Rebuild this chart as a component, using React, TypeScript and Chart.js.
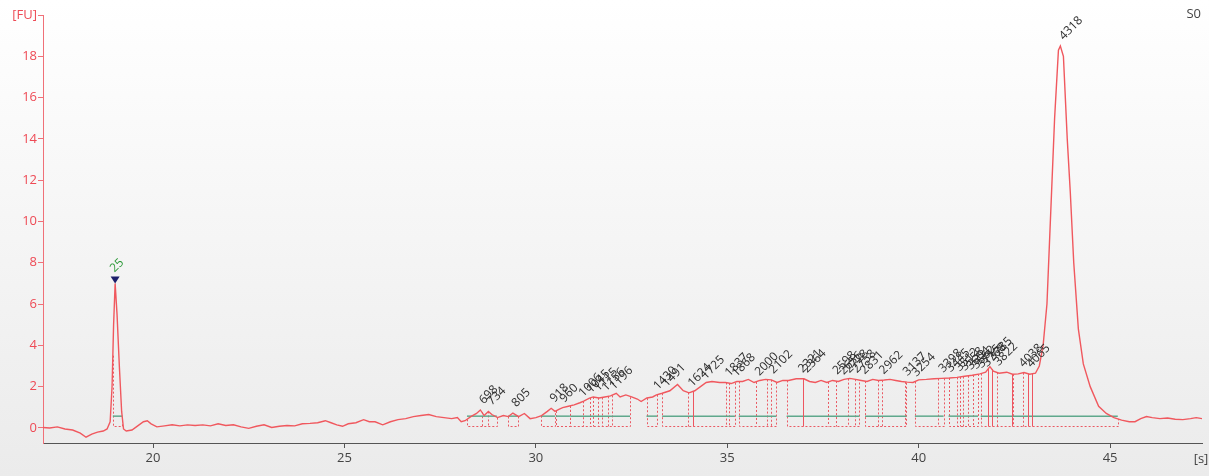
import { useEffect, useRef } from "react";
import { Chart, registerables } from "chart.js";

Chart.register(...registerables);

// Electropherogram trace: migration time [s] and fluorescence [FU]
const traceTime = [
  17.12, 17.3, 17.5, 17.7, 17.9, 18.1, 18.25, 18.4, 18.55, 18.7, 18.8, 18.88, 18.93, 18.97, 19.01,
  19.06, 19.12, 19.18, 19.23, 19.3, 19.45, 19.6, 19.75, 19.85, 19.95, 20.1, 20.3, 20.5, 20.7, 20.9,
  21.1, 21.3, 21.5, 21.7, 21.9, 22.1, 22.3, 22.5, 22.7, 22.9, 23.1, 23.3, 23.5, 23.7, 23.9,
  24.1, 24.3, 24.5, 24.65, 24.8, 24.95, 25.1, 25.3, 25.5, 25.65, 25.8, 26.0, 26.2, 26.4, 26.6,
  26.8, 27.0, 27.2, 27.4, 27.6, 27.8, 27.95, 28.05, 28.15, 28.3, 28.45, 28.55, 28.65, 28.76, 28.85,
  29.0, 29.15, 29.28, 29.4, 29.55, 29.7, 29.85, 30.0, 30.15, 30.3, 30.4, 30.5, 30.6, 30.7, 30.85,
  31.0, 31.15, 31.25, 31.4, 31.5, 31.65, 31.8, 31.95, 32.1, 32.2, 32.35, 32.5, 32.65, 32.75, 32.9,
  33.05, 33.15, 33.3, 33.5, 33.7, 33.85, 34.0, 34.15, 34.3, 34.45, 34.6, 34.8, 34.95, 35.1, 35.25,
  35.4, 35.55, 35.7, 35.85, 36.0, 36.15, 36.3, 36.45, 36.6, 36.8, 37.0, 37.15, 37.3, 37.45, 37.6,
  37.75, 37.9, 38.05, 38.2, 38.35, 38.5, 38.65, 38.8, 38.95, 39.1, 39.25, 39.4, 39.55, 39.7, 39.85,
  40.0, 40.2, 40.4, 40.6, 40.8, 41.0, 41.2, 41.4, 41.6, 41.75, 41.86, 41.95, 42.1, 42.3, 42.45,
  42.6, 42.75, 42.9, 43.05, 43.15, 43.25, 43.35, 43.45, 43.55, 43.65, 43.7, 43.78, 43.88, 43.96, 44.05,
  44.17, 44.3, 44.48, 44.7, 44.9, 45.1, 45.3, 45.5, 45.65, 45.8, 45.95, 46.1, 46.3, 46.5, 46.7,
  46.9, 47.1, 47.25, 47.4,
];
const traceFU = [
  0.02, 0.0, 0.05, -0.05, -0.1, -0.25, -0.45, -0.3, -0.2, -0.15, -0.05, 0.3, 2.0, 5.0, 7.0,
  5.5, 3.0, 0.8, -0.05, -0.15, -0.1, 0.1, 0.3, 0.35, 0.2, 0.05, 0.1, 0.15, 0.1, 0.15,
  0.12, 0.15, 0.1, 0.2, 0.12, 0.15, 0.05, -0.02, 0.08, 0.15, 0.02, 0.08, 0.12, 0.1, 0.2,
  0.22, 0.25, 0.35, 0.25, 0.15, 0.08, 0.2, 0.25, 0.4, 0.3, 0.3, 0.15, 0.3, 0.4, 0.45,
  0.55, 0.6, 0.65, 0.55, 0.5, 0.45, 0.5, 0.3, 0.35, 0.55, 0.7, 0.87, 0.6, 0.8, 0.65,
  0.5, 0.6, 0.55, 0.72, 0.55, 0.7, 0.45, 0.5, 0.6, 0.8, 0.95, 0.8, 0.9, 0.98, 1.05,
  1.12, 1.22, 1.3, 1.44, 1.5, 1.45, 1.5, 1.55, 1.68, 1.5, 1.6, 1.5, 1.4, 1.28, 1.45,
  1.5, 1.6, 1.68, 1.8, 2.1, 1.8, 1.7, 1.8, 2.0, 2.2, 2.25, 2.2, 2.2, 2.15, 2.25,
  2.25, 2.35, 2.2, 2.3, 2.35, 2.33, 2.2, 2.3, 2.3, 2.38, 2.38, 2.25, 2.2, 2.3, 2.2,
  2.3, 2.25, 2.35, 2.4, 2.35, 2.3, 2.25, 2.35, 2.3, 2.32, 2.35, 2.3, 2.25, 2.22, 2.2,
  2.33, 2.35, 2.38, 2.4, 2.42, 2.45, 2.5, 2.55, 2.62, 2.7, 2.97, 2.75, 2.65, 2.7, 2.6,
  2.62, 2.68, 2.6, 2.65, 3.0, 4.0, 6.0, 10.5, 15.0, 18.3, 18.5, 18.0, 14.0, 11.4, 8.0,
  4.8, 3.1, 2.0, 1.05, 0.7, 0.5, 0.38, 0.3, 0.3, 0.45, 0.55, 0.5, 0.45, 0.48, 0.42,
  0.4, 0.45, 0.5, 0.45,
];

// Called peaks: size [bp] and apex time [s]
const peakSizes = [
  "698", "734", "805", "918", "960", "1006", "1045", "1115", "1156", "1196",
  "1430", "1491", "1624", "1725", "1837", "1868", "2000", "2102", "2321", "2364",
  "2598", "2656", "2728", "2758", "2831", "2962", "3137", "3254", "3398", "3445",
  "3512", "3558", "3604", "3662", "3715", "3768", "3785", "3822", "4038", "4065", "4318",
];
const peakTimes = [
  28.55, 28.76, 29.4, 30.4, 30.65, 31.15, 31.35, 31.55, 31.75, 31.95,
  33.1, 33.33, 34.0, 34.35, 34.97, 35.15, 35.75, 36.12, 36.88, 37.0,
  37.78, 37.95, 38.1, 38.3, 38.5, 39.0, 39.62, 39.85, 40.55, 40.75,
  40.98, 41.12, 41.28, 41.42, 41.56, 41.7, 41.86, 42.0, 42.65, 42.85, 43.7,
];

// Lower marker peak
const markerSize = "25";
const markerTime = 19.01;

// Integration regions [s]
const regionStart = [18.95, 28.2, 29.28, 30.13, 30.52, 30.9, 32.89, 33.3, 35.3, 36.55, 38.6, 39.9, 40.78, 41.62];
const regionEnd = [19.2, 28.98, 29.54, 30.5, 30.89, 32.46, 33.17, 35.2, 36.28, 38.45, 39.68, 40.65, 41.55, 45.2];

// Peak boundaries inside regions (dotted) and apex drop lines (solid) [s]
const splitTimes = [
  28.59, 28.76, 31.24, 31.42, 31.5, 31.63, 31.72, 31.89, 31.98, 33.98, 34.96, 35.05,
  35.74, 36.05, 36.14, 37.64, 37.84, 38.16, 38.33, 38.94, 39.03, 39.64, 40.51, 40.99,
  41.08, 41.16, 41.3, 41.43, 42.04, 42.47, 42.73,
];
const solidTimes = [34.11, 36.97, 41.82, 41.91, 42.43, 42.86, 42.95];

const xTicks = [20, 25, 30, 35, 40, 45];
const yTicks = [0, 2, 4, 6, 8, 10, 12, 14, 16, 18];

const X_MIN = 17.126;
const X_MAX = 47.4;
const Y_MIN = -0.73;
const Y_MAX = 20;
const BASELINE_FU = 0.57;
const FLOOR_FU = 0.07;

const FONT = "'Open Sans', 'DejaVu Sans', sans-serif";
const TRACE_COLOR = "#f0585e";
const DOT_COLOR = "#ea5a64";
const GREEN = "#5fa88c";

function valueAt(t: number): number {
  if (t <= traceTime[0]) return traceFU[0];
  for (let i = 0; i < traceTime.length - 1; i++) {
    const a = traceTime[i];
    const b = traceTime[i + 1];
    if (t >= a && t <= b) {
      const f = (t - a) / (b - a);
      return traceFU[i] + f * (traceFU[i + 1] - traceFU[i]);
    }
  }
  return traceFU[traceFU.length - 1];
}

const regionsPlugin = {
  id: "regions",
  beforeDatasetsDraw(chart: any) {
    const { ctx } = chart;
    const xs = chart.scales.x;
    const ys = chart.scales.y;
    const px = (t: number) => Math.round(xs.getPixelForValue(t)) + 0.5;
    const py = (v: number) => ys.getPixelForValue(v);
    const floorY = Math.round(py(FLOOR_FU)) + 0.5;
    const baseY = py(BASELINE_FU);
    ctx.save();
    ctx.lineWidth = 1;

    // dotted boxes
    ctx.strokeStyle = DOT_COLOR;
    ctx.setLineDash([2, 2]);
    for (let i = 0; i < regionStart.length; i++) {
      const s = regionStart[i];
      const e = regionEnd[i];
      ctx.beginPath();
      ctx.moveTo(px(s), py(valueAt(s)));
      ctx.lineTo(px(s), floorY);
      ctx.lineTo(px(e), floorY);
      ctx.lineTo(px(e), py(valueAt(e)));
      ctx.stroke();
    }
    for (const t of splitTimes) {
      ctx.beginPath();
      ctx.moveTo(px(t), py(valueAt(t)));
      ctx.lineTo(px(t), floorY);
      ctx.stroke();
    }
    ctx.setLineDash([]);

    // baselines
    ctx.strokeStyle = GREEN;
    ctx.lineWidth = 1.5;
    for (let i = 0; i < regionStart.length; i++) {
      ctx.beginPath();
      ctx.moveTo(xs.getPixelForValue(regionStart[i]), baseY);
      ctx.lineTo(xs.getPixelForValue(regionEnd[i]), baseY);
      ctx.stroke();
    }

    // apex drop lines
    ctx.strokeStyle = "#ee5560";
    ctx.lineWidth = 1;
    for (const t of solidTimes) {
      ctx.beginPath();
      ctx.moveTo(px(t), py(valueAt(t)));
      ctx.lineTo(px(t), floorY);
      ctx.stroke();
    }
    ctx.restore();
  },
  afterDatasetsDraw(chart: any) {
    const { ctx } = chart;
    const xs = chart.scales.x;
    const ys = chart.scales.y;
    ctx.save();
    ctx.font = `12px ${FONT}`;
    ctx.textAlign = "left";
    ctx.textBaseline = "middle";
    ctx.fillStyle = "#2e2e2e";
    for (let i = 0; i < peakSizes.length; i++) {
      const t = peakTimes[i];
      const x = xs.getPixelForValue(t);
      const y = ys.getPixelForValue(valueAt(t));
      ctx.save();
      ctx.translate(x + 1, y - 8);
      ctx.rotate(-Math.PI / 4);
      ctx.fillText(peakSizes[i], 0, 0);
      ctx.restore();
    }

    // lower marker: triangle and green label
    const mx = xs.getPixelForValue(markerTime);
    const my = ys.getPixelForValue(valueAt(markerTime));
    ctx.fillStyle = "#1c1f6b";
    ctx.beginPath();
    ctx.moveTo(mx - 4.5, my - 7);
    ctx.lineTo(mx + 4.5, my - 7);
    ctx.lineTo(mx, my);
    ctx.closePath();
    ctx.fill();
    ctx.fillStyle = "#2e9a3a";
    ctx.save();
    ctx.translate(mx - 3, my - 13);
    ctx.rotate(-Math.PI / 4);
    ctx.fillText(markerSize, 0, 0);
    ctx.restore();

    // axis unit and sample name
    ctx.font = `13px ${FONT}`;
    ctx.fillStyle = "#444";
    ctx.textAlign = "center";
    ctx.textBaseline = "top";
    ctx.fillText("[s]", xs.getPixelForValue(X_MAX) - 1, chart.scales.x.top + 10);
    ctx.textAlign = "right";
    ctx.fillText("S0", 1201, 8);
    ctx.restore();
  },
};

export default function App() {
  const canvasRef = useRef<HTMLCanvasElement | null>(null);

  useEffect(() => {
    const canvas = canvasRef.current;
    if (!canvas) return;
    const chart = new Chart(canvas, {
      type: "line",
      data: {
        datasets: [
          {
            data: traceTime.map((t, i) => ({ x: t, y: traceFU[i] })),
            borderColor: TRACE_COLOR,
            borderWidth: 1.4,
            pointRadius: 0,
            tension: 0,
            fill: false,
          },
        ],
      },
      options: {
        responsive: false,
        animation: false,
        events: [],
        layout: { padding: { top: 15, right: 7, left: 0, bottom: 0 } },
        plugins: { legend: { display: false }, tooltip: { enabled: false } },
        scales: {
          x: {
            type: "linear",
            min: X_MIN,
            max: X_MAX,
            afterBuildTicks: (s: any) => {
              s.ticks = xTicks.map((v) => ({ value: v }));
            },
            afterFit: (s: any) => {
              s.height = 33;
            },
            ticks: {
              color: "#444",
              font: { family: FONT, size: 13 },
              padding: 2,
              maxRotation: 0,
              autoSkip: false,
              callback: (v: any) => String(v),
            },
            grid: { drawOnChartArea: false, tickLength: 5, tickColor: "#555" },
            border: { color: "#555", width: 1 },
          },
          y: {
            type: "linear",
            min: Y_MIN,
            max: Y_MAX,
            afterBuildTicks: (s: any) => {
              s.ticks = [...yTicks, Y_MAX].map((v) => ({ value: v }));
            },
            afterFit: (s: any) => {
              s.width = 43;
            },
            ticks: {
              color: "#ee4a55",
              font: { family: FONT, size: 13 },
              padding: 1,
              autoSkip: false,
              callback: (v: any) => (v === Y_MAX ? "[FU]" : String(v)),
            },
            grid: { drawOnChartArea: false, tickLength: 5, tickColor: "#f07078" },
            border: { color: "#f07078", width: 1 },
          },
        },
      },
      plugins: [regionsPlugin],
    });
    return () => chart.destroy();
  }, []);

  return (
    <div
      style={{
        position: "fixed",
        left: 0,
        top: 0,
        width: 1209,
        height: 476,
        background: "linear-gradient(#ffffff, #ebebeb)",
      }}
    >
      <canvas ref={canvasRef} width={1209} height={476} style={{ display: "block" }} />
    </div>
  );
}
